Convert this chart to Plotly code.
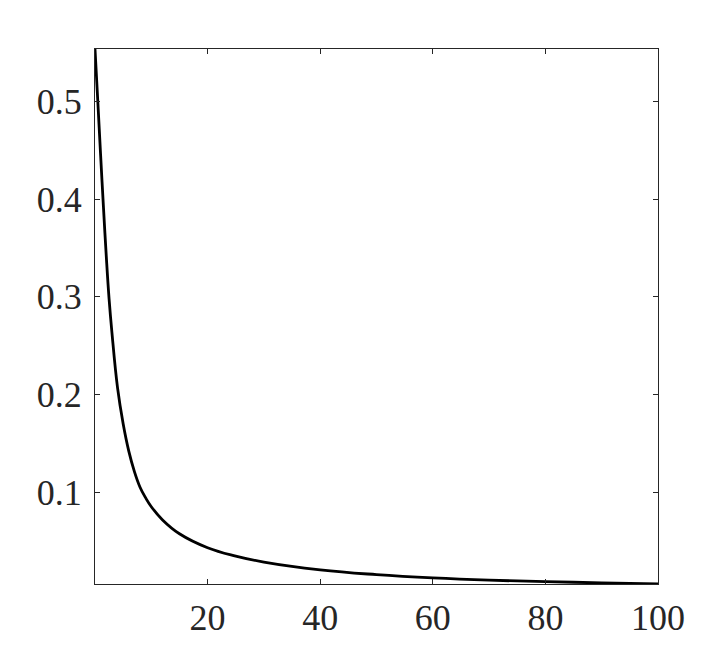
import plotly.graph_objects as go

# Values
x_vals = [0, 0.5, 1, 1.5, 2, 2.5, 3, 4, 5, 6, 7, 8, 9, 10, 12, 15, 20, 25, 30,
          40, 50, 60, 70, 80, 90, 100]
y_vals = [0.554, 0.50, 0.445, 0.392, 0.342, 0.298, 0.264, 0.207, 0.170, 0.142, 0.121,
          0.105, 0.094, 0.085, 0.0715, 0.0573, 0.043, 0.0344, 0.0283,
          0.0203, 0.0154, 0.0120, 0.0097, 0.0083, 0.0069, 0.0058]

x_ticks = [20, 40, 60, 80, 100]
y_ticks = [0.1, 0.2, 0.3, 0.4, 0.5]
y_tick_labels = ["0.1", "0.2", "0.3", "0.4", "0.5"]

axis_color = "#262626"
font = dict(family="Liberation Serif, DejaVu Serif, serif", size=36, color=axis_color)

fig = go.Figure()
fig.add_trace(go.Scatter(
    x=x_vals, y=y_vals, mode="lines",
    line=dict(color="black", width=2.8, shape="spline", smoothing=1.2),
    showlegend=False, hoverinfo="skip",
))

axis_common = dict(
    showline=True, linecolor=axis_color, linewidth=1, mirror="ticks",
    ticks="inside", ticklen=5, tickwidth=1, tickcolor=axis_color,
    showgrid=False, zeroline=False, tickfont=font,
)

fig.update_xaxes(range=[0, 100], tickvals=x_ticks, ticktext=[str(v) for v in x_ticks],
                 ticklabelstandoff=2, **axis_common)
fig.update_yaxes(range=[0.0058, 0.554], tickvals=y_ticks, ticktext=y_tick_labels,
                 ticklabelstandoff=5, **axis_common)

fig.update_layout(
    width=711, height=641,
    margin=dict(l=87, r=61, t=41, b=65),
    paper_bgcolor="white", plot_bgcolor="white",
    font=font,
)

fig.write_html("out.html")
